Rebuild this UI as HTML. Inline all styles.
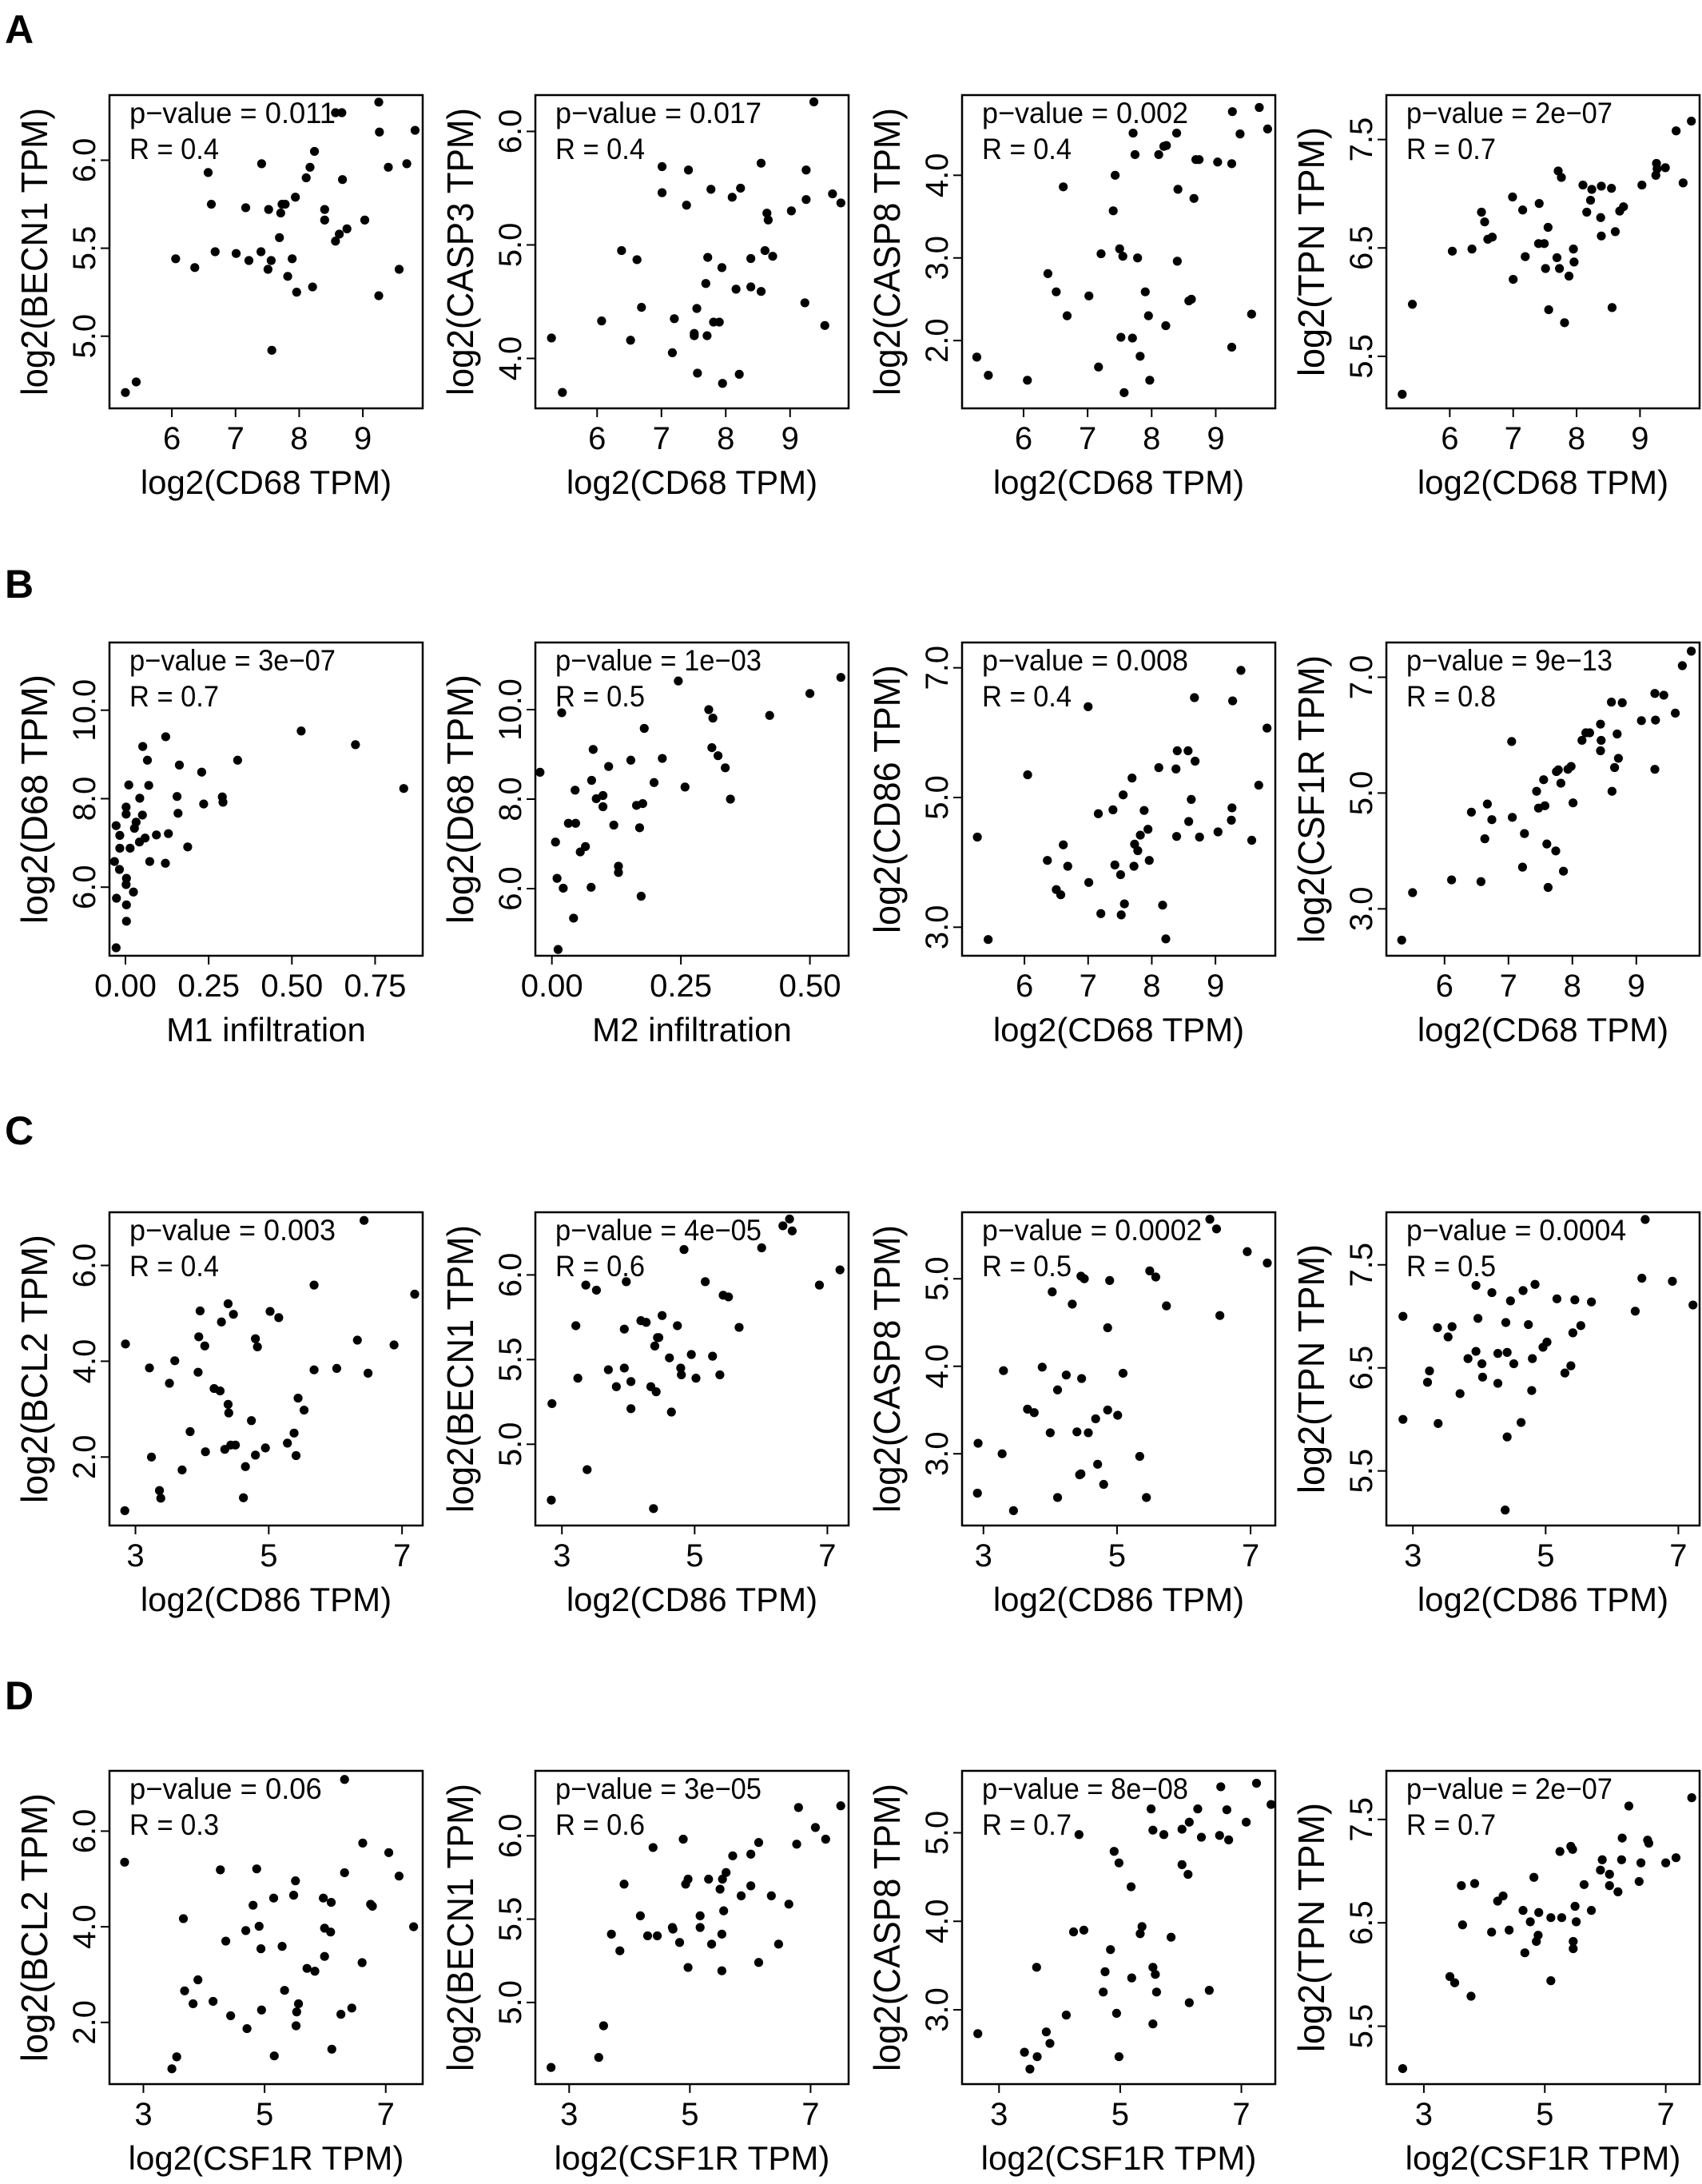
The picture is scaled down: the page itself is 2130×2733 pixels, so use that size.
<!DOCTYPE html>
<html><head><meta charset="utf-8"><style>
html,body{margin:0;padding:0;background:#fff;}
svg text{font-family:"Liberation Sans",sans-serif;fill:#000;}
</style></head><body>
<svg id="fig" xmlns="http://www.w3.org/2000/svg" width="2130" height="2728" viewBox="0 0 2130 2728"></svg>
<script>
// ---------- data (x,y pairs) ----------
const a1Points=[[5.27,4.68],[5.44,4.74],[6.06,5.44],[6.36,5.39],[6.57,5.93],[6.62,5.75],[6.68,5.48],[7.01,5.47],[7.16,5.73],[7.21,5.43],[7.40,5.48],[7.41,5.98],[7.52,5.72],[7.51,5.38],[7.56,5.43],[7.57,4.92],[7.69,5.56],[7.71,5.70],[7.73,5.75],[7.78,5.75],[7.89,5.44],[7.82,5.34],[7.94,5.79],[7.96,5.25],[8.11,5.90],[8.17,5.96],[8.24,6.05],[8.21,5.28],[8.40,5.72],[8.40,5.66],[8.57,5.54],[8.57,6.27],[8.67,6.27],[8.63,5.58],[8.68,5.89],[8.75,5.61],[9.03,5.66],[9.25,6.33],[9.26,6.16],[9.25,5.23],[9.40,5.96],[9.57,5.38],[9.69,5.98],[9.82,6.17]];
const a2Points=[[5.29,4.18],[5.46,3.70],[6.07,4.33],[6.38,4.95],[6.52,4.16],[6.62,4.87],[6.69,4.45],[7.01,5.69],[7.01,5.46],[7.17,4.05],[7.20,4.35],[7.39,5.35],[7.42,5.66],[7.51,4.22],[7.51,4.20],[7.55,4.44],[7.56,3.87],[7.72,4.89],[7.71,4.20],[7.69,4.66],[7.77,5.49],[7.81,4.32],[7.90,4.32],[7.94,4.80],[7.95,3.78],[8.10,5.42],[8.16,4.61],[8.21,3.86],[8.23,5.50],[8.39,4.88],[8.39,4.63],[8.55,5.72],[8.55,4.59],[8.61,4.95],[8.64,5.28],[8.66,5.22],[8.73,4.90],[9.02,5.30],[9.23,4.49],[9.25,5.40],[9.25,5.66],[9.37,6.26],[9.54,4.29],[9.66,5.45],[9.79,5.37]];
const a3Points=[[5.27,1.80],[5.45,1.58],[6.06,1.52],[6.38,2.81],[6.51,2.59],[6.62,3.86],[6.68,2.30],[7.02,2.54],[7.17,1.68],[7.21,3.05],[7.40,3.57],[7.43,4.00],[7.50,3.11],[7.55,3.02],[7.52,2.04],[7.57,1.37],[7.70,2.03],[7.71,4.51],[7.74,4.25],[7.78,3.00],[7.82,1.81],[7.90,2.59],[7.95,2.30],[7.97,1.52],[8.11,4.25],[8.19,4.35],[8.23,4.36],[8.22,2.18],[8.39,4.51],[8.40,2.96],[8.41,3.83],[8.58,2.48],[8.62,2.50],[8.66,3.72],[8.69,4.19],[8.74,4.19],[9.03,4.16],[9.25,4.14],[9.26,4.77],[9.25,1.92],[9.38,4.50],[9.56,2.32],[9.68,4.82],[9.81,4.56]];
const a4Points=[[5.25,5.15],[5.41,5.98],[6.04,6.47],[6.35,6.49],[6.50,6.83],[6.55,6.74],[6.60,6.58],[6.67,6.60],[6.99,6.97],[7.00,6.21],[7.15,6.85],[7.19,6.42],[7.41,6.91],[7.40,6.54],[7.49,6.54],[7.51,6.31],[7.55,6.69],[7.56,5.93],[7.69,6.41],[7.71,7.21],[7.73,6.31],[7.76,7.15],[7.81,5.81],[7.88,6.24],[7.95,6.49],[7.96,6.37],[8.10,7.08],[8.22,6.94],[8.16,6.83],[8.24,7.04],[8.39,7.07],[8.38,6.78],[8.39,6.61],[8.55,7.05],[8.61,6.65],[8.56,5.95],[8.68,6.84],[8.74,6.88],[9.03,7.08],[9.25,7.17],[9.26,7.28],[9.27,7.23],[9.40,7.24],[9.68,7.10],[9.57,7.58],[9.81,7.67]];
const b1Points=[[-0.028,4.63],[-0.027,5.75],[-0.033,6.58],[-0.018,6.40],[-0.017,6.88],[-0.017,7.17],[-0.028,7.39],[0.002,7.81],[0.002,7.65],[0.003,6.20],[0.002,6.06],[0.003,5.60],[0.003,5.23],[0.010,8.31],[0.014,6.88],[0.024,5.89],[0.027,7.33],[0.032,7.47],[0.043,8.01],[0.042,7.02],[0.052,9.18],[0.051,7.63],[0.059,7.11],[0.066,8.87],[0.070,8.30],[0.073,6.58],[0.093,7.18],[0.121,9.40],[0.120,6.54],[0.129,7.21],[0.155,8.05],[0.158,7.67],[0.162,8.76],[0.187,6.91],[0.229,8.60],[0.235,7.88],[0.291,8.04],[0.293,7.92],[0.337,8.87],[0.528,9.53],[0.691,9.22],[0.836,8.23]];
const b2Points=[[-0.023,8.60],[0.007,7.04],[0.010,6.23],[0.022,6.01],[0.012,4.64],[0.019,9.93],[0.032,7.46],[0.046,7.46],[0.045,8.20],[0.042,5.34],[0.055,6.82],[0.065,6.94],[0.076,6.03],[0.077,8.42],[0.080,9.11],[0.086,8.01],[0.099,8.08],[0.099,7.83],[0.110,8.73],[0.120,7.42],[0.129,6.50],[0.129,6.36],[0.153,8.87],[0.164,7.86],[0.176,7.90],[0.170,7.36],[0.173,5.83],[0.179,9.58],[0.198,8.37],[0.214,8.91],[0.245,10.64],[0.258,8.27],[0.304,10.0],[0.312,9.81],[0.310,9.15],[0.322,8.97],[0.336,8.70],[0.346,8.00],[0.422,9.87],[0.500,10.36],[0.560,10.72]];
const b3Points=[[5.26,4.39],[5.43,2.81],[6.05,5.35],[6.36,4.03],[6.50,3.58],[6.57,3.50],[6.61,4.27],[6.68,3.94],[7.00,6.40],[7.01,3.69],[7.16,4.75],[7.20,3.21],[7.39,4.81],[7.42,3.96],[7.51,3.81],[7.52,3.19],[7.55,5.04],[7.57,3.36],[7.69,5.30],[7.72,3.94],[7.73,4.28],[7.78,4.18],[7.82,4.42],[7.88,4.80],[7.94,4.51],[7.96,4.03],[8.11,5.46],[8.17,3.34],[8.22,2.82],[8.38,5.44],[8.40,5.72],[8.39,4.40],[8.57,5.72],[8.58,4.63],[8.62,4.97],[8.67,6.54],[8.68,5.56],[8.75,4.39],[9.04,4.47],[9.25,4.65],[9.26,4.84],[9.27,6.49],[9.40,6.96],[9.57,4.34],[9.68,5.19],[9.81,6.07]];
const b4Points=[[5.33,2.46],[5.50,3.28],[6.11,3.50],[6.57,3.47],[6.42,4.67],[6.63,4.21],[6.67,4.81],[6.74,4.54],[7.05,5.89],[7.06,4.58],[7.22,3.72],[7.25,4.30],[7.44,5.03],[7.47,4.74],[7.55,5.23],[7.57,4.78],[7.60,4.12],[7.62,3.37],[7.74,4.00],[7.75,5.37],[7.78,5.40],[7.82,5.17],[7.86,3.65],[7.93,5.41],[7.98,5.46],[8.01,4.83],[8.15,5.91],[8.21,6.04],[8.27,6.04],[8.44,6.19],[8.45,5.91],[8.44,5.73],[8.61,6.57],[8.62,5.03],[8.66,5.44],[8.70,6.02],[8.72,5.60],[8.78,6.56],[9.08,6.25],[9.29,6.72],[9.30,6.26],[9.29,5.41],[9.43,6.69],[9.61,6.38],[9.72,7.20],[9.86,7.45]];
const c1Points=[[2.84,0.88],[2.85,4.36],[3.21,3.86],[3.24,2.00],[3.36,1.30],[3.38,1.14],[3.51,3.54],[3.59,4.01],[3.70,1.73],[3.82,2.53],[3.94,3.77],[3.95,4.51],[3.97,5.05],[4.04,4.32],[4.05,2.11],[4.18,3.43],[4.27,3.38],[4.29,4.82],[4.34,2.16],[4.39,5.20],[4.39,3.10],[4.40,2.92],[4.43,2.25],[4.50,2.25],[4.47,4.98],[4.62,1.15],[4.65,1.80],[4.74,2.76],[4.80,4.47],[4.83,4.30],[4.80,2.04],[4.95,2.19],[5.02,5.04],[5.15,4.91],[5.28,2.29],[5.38,2.50],[5.41,2.03],[5.44,3.23],[5.53,2.98],[5.68,5.59],[5.68,3.82],[6.02,3.85],[6.33,4.44],[6.43,6.94],[6.49,3.75],[6.88,4.34],[7.19,5.40]];
const c2Points=[[2.84,4.67],[2.85,5.24],[3.21,5.70],[3.24,5.39],[3.36,5.94],[3.38,4.85],[3.52,5.91],[3.70,5.44],[3.82,5.34],[3.94,5.68],[3.94,5.45],[3.97,5.96],[4.04,5.37],[4.04,5.21],[4.19,5.73],[4.27,5.72],[4.34,5.34],[4.38,4.62],[4.40,5.58],[4.42,5.31],[4.44,5.63],[4.46,5.63],[4.51,5.76],[4.62,5.51],[4.65,5.19],[4.74,5.70],[4.79,5.45],[4.80,5.41],[4.84,6.15],[4.95,5.53],[5.02,5.39],[5.16,5.96],[5.27,5.52],[5.38,5.41],[5.43,5.88],[5.51,5.87],[5.67,5.69],[6.01,6.16],[6.33,6.29],[6.43,6.33],[6.47,6.26],[6.88,5.94],[7.19,6.03]];
const c3Points=[[2.91,2.55],[2.92,3.12],[3.28,3.00],[3.45,2.35],[3.30,3.95],[3.66,3.51],[3.76,3.47],[3.88,3.99],[4.00,3.24],[4.11,3.73],[4.11,2.50],[4.03,4.85],[4.24,3.90],[4.33,4.71],[4.40,3.25],[4.44,2.76],[4.46,2.77],[4.46,5.03],[4.47,3.86],[4.51,5.00],[4.57,3.24],[4.68,3.40],[4.71,2.88],[4.80,2.65],[4.86,3.50],[4.86,4.44],[4.89,4.98],[5.01,3.44],[5.09,3.92],[5.34,2.97],[5.44,2.50],[5.49,5.09],[5.58,5.02],[5.74,4.69],[6.39,5.68],[6.49,5.57],[6.54,4.58],[6.95,5.31],[7.25,5.18]];
const c4Points=[[2.85,7.00],[2.85,6.00],[3.22,6.36],[3.25,6.47],[3.37,6.89],[3.59,6.90],[3.53,6.80],[3.38,5.96],[3.71,6.25],[3.83,6.59],[3.95,7.30],[3.98,6.98],[3.95,6.66],[4.04,6.54],[4.05,6.41],[4.19,7.23],[4.28,6.64],[4.28,6.35],[4.40,6.94],[4.42,6.65],[4.47,7.15],[4.52,6.54],[4.39,5.12],[4.42,5.83],[4.63,5.97],[4.66,7.25],[4.74,6.92],[4.80,6.59],[4.79,6.28],[4.84,7.31],[4.96,6.70],[5.02,6.75],[5.17,7.17],[5.29,6.45],[5.38,6.52],[5.41,6.84],[5.44,7.16],[5.53,6.91],[5.69,7.14],[6.35,7.05],[6.45,7.37],[6.50,7.94],[6.91,7.34],[7.22,7.11]];
const d1Points=[[2.69,5.35],[6.32,7.08],[6.62,5.75],[7.05,5.55],[3.66,4.17],[4.27,5.19],[4.87,5.21],[5.51,4.96],[6.32,5.13],[7.22,5.06],[5.15,4.60],[5.48,4.66],[5.97,4.60],[6.10,4.51],[4.81,4.45],[6.75,4.47],[6.78,4.43],[7.46,4.00],[4.69,3.92],[4.91,4.01],[5.99,3.97],[6.09,3.89],[4.36,3.70],[4.94,3.54],[5.29,3.59],[5.99,3.38],[6.61,3.25],[5.70,3.13],[5.83,3.07],[3.90,2.89],[3.68,2.66],[5.33,2.67],[3.82,2.39],[4.15,2.44],[5.56,2.39],[5.53,2.22],[4.95,2.26],[4.44,2.14],[6.26,2.17],[6.44,2.30],[5.52,1.93],[4.71,1.87],[6.11,1.44],[5.16,1.30],[3.55,1.28],[3.47,1.03]];
const d2Points=[[2.70,4.61],[3.49,4.67],[3.57,4.86],[3.70,5.41],[3.84,5.31],[3.91,5.71],[4.18,5.52],[4.30,5.40],[4.46,5.40],[4.39,5.93],[4.71,5.45],[4.72,5.44],[4.83,5.36],[4.89,5.98],[4.93,5.71],[4.97,5.74],[4.97,5.21],[5.17,5.52],[5.17,5.45],[5.31,5.74],[5.36,5.35],[5.50,5.68],[5.54,5.74],[5.60,5.78],[5.56,5.55],[5.53,5.41],[5.53,5.19],[5.71,5.88],[5.85,5.64],[6.01,5.89],[6.01,5.70],[6.14,5.96],[6.14,5.24],[6.35,5.64],[6.47,5.35],[6.64,5.59],[6.77,5.95],[6.80,6.17],[7.08,6.05],[7.25,5.98],[7.50,6.18]];
const d3Points=[[2.65,2.73],[3.42,2.52],[3.51,2.33],[3.63,2.47],[3.78,2.75],[3.84,2.62],[3.62,3.48],[4.11,2.94],[4.23,3.88],[4.40,3.90],[4.32,4.98],[4.72,3.20],[4.75,3.43],[4.84,3.68],[4.94,2.96],[4.98,2.47],[4.90,4.79],[4.98,4.66],[5.18,4.39],[5.19,3.36],[5.33,3.86],[5.36,3.94],[5.54,2.84],[5.54,3.48],[5.58,3.40],[5.60,3.20],[5.51,5.27],[5.54,5.03],[5.72,4.98],[5.84,3.82],[6.02,5.04],[6.02,4.64],[6.12,4.53],[6.14,5.12],[6.14,3.08],[6.28,5.27],[6.34,4.95],[6.47,3.22],[6.64,4.97],[6.66,5.52],[6.76,5.26],[6.79,4.92],[7.08,5.12],[7.25,5.56],[7.49,5.32]];
const d4Points=[[2.65,5.09],[3.43,5.98],[3.51,5.92],[3.78,5.79],[3.62,6.86],[3.84,6.88],[3.64,6.48],[4.12,6.41],[4.22,6.71],[4.31,6.76],[4.41,6.43],[4.64,6.62],[4.67,6.21],[4.76,6.51],[4.82,6.94],[4.86,6.32],[4.89,6.38],[4.90,6.60],[5.10,6.55],[5.10,5.94],[5.25,7.19],[5.28,6.55],[5.43,7.24],[5.46,7.21],[5.47,6.32],[5.47,6.25],[5.50,6.66],[5.52,6.51],[5.65,6.87],[5.77,6.62],[5.92,7.01],[5.95,7.11],[6.07,6.97],[6.07,6.86],[6.21,6.80],[6.27,7.11],[6.28,7.32],[6.39,7.63],[6.56,6.90],[6.59,7.08],[6.70,7.30],[6.72,7.27],[7.00,7.08],[7.17,7.13],[7.43,7.71]];

// axis limits per panel [min,max]
const xLimits=[[5.02,9.94],[5.04,9.91],[5.04,9.93],[5.0,9.94],[-0.048,0.893],[-0.032,0.575],[5.02,9.94],[5.09,9.99],[2.61,7.31],[2.60,7.32],[2.68,7.37],[2.60,7.32],[2.44,7.61],[2.44,7.63],[2.39,7.56],[2.38,7.56]];
const yLimits=[[4.59,6.37],[3.56,6.32],[1.18,4.97],[5.02,7.91],[4.45,11.53],[4.50,11.50],[2.56,7.39],[2.19,7.60],[0.57,7.11],[4.52,6.37],[2.18,5.76],[4.97,8.01],[0.71,7.26],[4.51,6.39],[2.16,5.70],[4.94,7.97]];
// tick labels
const xTicksCD68=["6","7","8","9"];
const xTicksM1=["0.00","0.25","0.50","0.75"];
const xTicksM2=["0.00","0.25","0.50"];
const xTicksCD86=["3","5","7"];
const xTickSets=[xTicksCD68,xTicksCD68,xTicksCD68,xTicksCD68,xTicksM1,xTicksM2,xTicksCD68,xTicksCD68,xTicksCD86,xTicksCD86,xTicksCD86,xTicksCD86,xTicksCD86,xTicksCD86,xTicksCD86,xTicksCD86];
const yTickSets=[["5.0","5.5","6.0"],["4.0","5.0","6.0"],["2.0","3.0","4.0"],["5.5","6.5","7.5"],["6.0","8.0","10.0"],["6.0","8.0","10.0"],["3.0","5.0","7.0"],["3.0","5.0","7.0"],["2.0","4.0","6.0"],["5.0","5.5","6.0"],["3.0","4.0","5.0"],["5.5","6.5","7.5"],["2.0","4.0","6.0"],["5.0","5.5","6.0"],["3.0","4.0","5.0"],["5.5","6.5","7.5"]];
const xTitles=["log2(CD68 TPM)","log2(CD68 TPM)","log2(CD68 TPM)","log2(CD68 TPM)","M1 infiltration","M2 infiltration","log2(CD68 TPM)","log2(CD68 TPM)","log2(CD86 TPM)","log2(CD86 TPM)","log2(CD86 TPM)","log2(CD86 TPM)","log2(CSF1R TPM)","log2(CSF1R TPM)","log2(CSF1R TPM)","log2(CSF1R TPM)"];
const yTitles=["log2(BECN1 TPM)","log2(CASP3 TPM)","log2(CASP8 TPM)","log2(TPN TPM)","log2(D68 TPM)","log2(D68 TPM)","log2(CD86 TPM)","log2(CSF1R TPM)","log2(BCL2 TPM)","log2(BECN1 TPM)","log2(CASP8 TPM)","log2(TPN TPM)","log2(BCL2 TPM)","log2(BECN1 TPM)","log2(CASP8 TPM)","log2(TPN TPM)"];
const pValues=["0.011","0.017","0.002","2e\u221207","3e\u221207","1e\u221203","0.008","9e\u221213","0.003","4e\u221205","0.0002","0.0004","0.06","3e\u221205","8e\u221208","2e\u221207"];
const rValues=["0.4","0.4","0.4","0.7","0.7","0.5","0.4","0.8","0.4","0.6","0.5","0.5","0.3","0.6","0.7","0.7"];
const panelLetters=["A","B","C","D"];
const allPoints=[a1Points,a2Points,a3Points,a4Points,b1Points,b2Points,b3Points,b4Points,c1Points,c2Points,c3Points,c4Points,d1Points,d2Points,d3Points,d4Points];

// ---------- layout ----------
const NS="http://www.w3.org/2000/svg";
const svg=document.getElementById('fig');
const colLeft=[137,670,1204,1735];
const rowTop=[119,804,1517,2216];
const letterBase=[54,748,1432,2139];
const BW=392, BH=392;
function mk(tag,attrs,parent){const e=document.createElementNS(NS,tag);for(const k in attrs)e.setAttribute(k,attrs[k]);(parent||svg).appendChild(e);return e;}

panelLetters.forEach((L,i)=>{
  const t=mk('text',{x:6,y:letterBase[i],'font-size':50,'font-weight':'bold'});
  
  
  t.textContent=L;
});

allPoints.forEach((pts,idx)=>{
  const r=Math.floor(idx/4), c=idx%4;
  const L=colLeft[c], T=rowTop[r], R=L+BW, B=T+BH;
  const [x0,x1]=xLimits[idx], [y0,y1]=yLimits[idx];
  const sx=v=>L+(v-x0)/(x1-x0)*BW;
  const sy=v=>B-(v-y0)/(y1-y0)*BH;
  const id=panelLetters[r].toLowerCase()+(c+1);
  const g=mk('g',{});
  
  
  const box=mk('rect',{x:L,y:T,width:BW,height:BH,fill:'none',stroke:'#000','stroke-width':2.5},g);
  
  
  // x ticks
  xTickSets[idx].forEach(lbl=>{
    const px=sx(parseFloat(lbl));
    const tk=mk('line',{x1:px,y1:B,x2:px,y2:B+11,stroke:'#000','stroke-width':2},g);
    
    
    const t=mk('text',{x:px,y:B+51,'font-size':40,'text-anchor':'middle'},g);
    
    
    t.textContent=lbl;
  });
  // y ticks
  yTickSets[idx].forEach(lbl=>{
    const py=sy(parseFloat(lbl));
    const tk=mk('line',{x1:L,y1:py,x2:L-11,y2:py,stroke:'#000','stroke-width':2},g);
    
    
    const t=mk('text',{x:0,y:0,'font-size':40,'text-anchor':'middle',transform:'translate('+(L-18)+','+py+') rotate(-90)'},g);
    
    
    t.textContent=lbl;
  });
  // titles
  const xt=mk('text',{x:L+BW/2,y:B+107,'font-size':42,'text-anchor':'middle'},g);
  
  
  xt.textContent=xTitles[idx];
  const yt=mk('text',{x:0,y:0,'font-size':46,'text-anchor':'middle',textLength:yTitles[idx].length*24,lengthAdjust:'spacingAndGlyphs',transform:'translate('+(L-78)+','+(T+BH/2)+') rotate(-90)'},g);
  
  
  yt.textContent=yTitles[idx];
  // annotations
  const ps='p\u2212value = '+pValues[idx];
  const pt=mk('text',{x:L+25,y:T+35,'font-size':37,textLength:ps.length*17.2,lengthAdjust:'spacingAndGlyphs'},g);
  
  
  pt.textContent=ps;
  const rs='R = '+rValues[idx];
  const rt=mk('text',{x:L+25,y:T+80,'font-size':37,textLength:rs.length*16,lengthAdjust:'spacingAndGlyphs'},g);
  
  
  rt.textContent=rs;
  // points
  pts.forEach(p=>{
    const d=mk('circle',{cx:sx(p[0]),cy:sy(p[1]),r:5.6,fill:'#000'},g);
    
    
  });
});
</script>
</body></html>
